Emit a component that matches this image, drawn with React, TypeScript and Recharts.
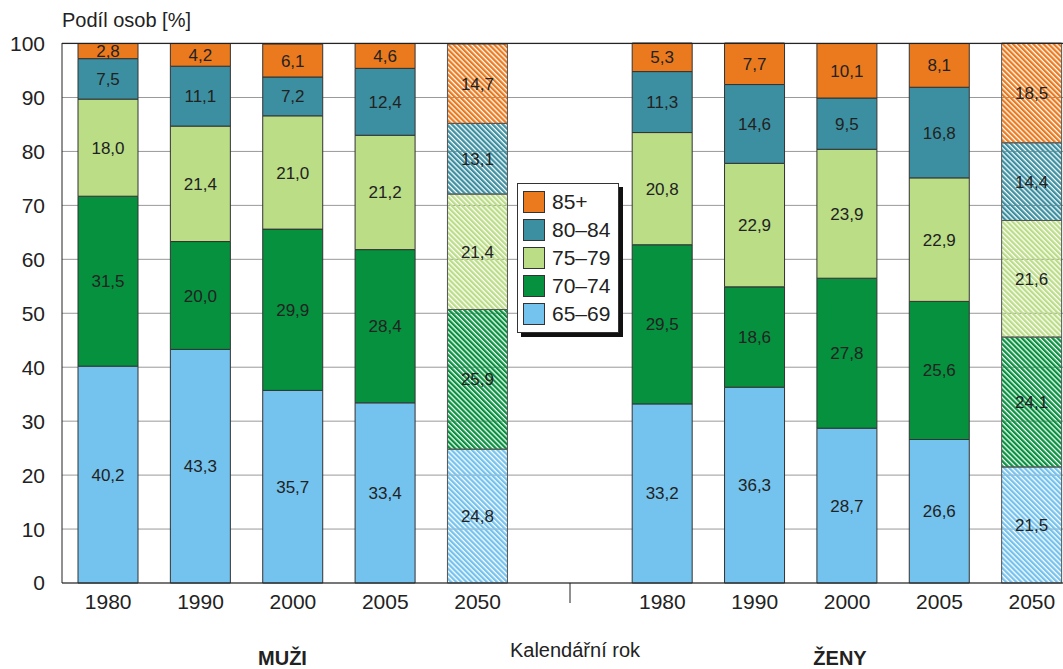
import { BarChart, Bar, XAxis, YAxis, CartesianGrid, Cell, LabelList, Legend, ReferenceLine } from 'recharts';

// categories: men (5), blank separator, women (5)
const years = ['1980', '1990', '2000', '2005', '2050', '', '1980', '1990', '2000', '2005', '2050'];
const age6569 = [40.2, 43.3, 35.7, 33.4, 24.8, null, 33.2, 36.3, 28.7, 26.6, 21.5];
const age7074 = [31.5, 20.0, 29.9, 28.4, 25.9, null, 29.5, 18.6, 27.8, 25.6, 24.1];
const age7579 = [18.0, 21.4, 21.0, 21.2, 21.4, null, 20.8, 22.9, 23.9, 22.9, 21.6];
const age8084 = [7.5, 11.1, 7.2, 12.4, 13.1, null, 11.3, 14.6, 9.5, 16.8, 14.4];
const age85 = [2.8, 4.2, 6.1, 4.6, 14.7, null, 5.3, 7.7, 10.1, 8.1, 18.5];
const yTicks = [0, 10, 20, 30, 40, 50, 60, 70, 80, 90, 100];

const series = [
  { key: 'a65', name: '65–69', color: '#74c2ee' },
  { key: 'a70', name: '70–74', color: '#05913e' },
  { key: 'a75', name: '75–79', color: '#badd86' },
  { key: 'a80', name: '80–84', color: '#3c8fa0' },
  { key: 'a85', name: '85+', color: '#eb7a1e' },
];

const data = years.map((year, i) => ({
  key: i,
  year,
  a65: age6569[i],
  a70: age7074[i],
  a75: age7579[i],
  a80: age8084[i],
  a85: age85[i],
}));

const font = '"Liberation Sans", Arial, sans-serif';
const fmt = (v: any) => (v == null ? '' : Number(v).toFixed(1).replace('.', ','));

const XTick = (props: any) => {
  const { x, y, payload } = props;
  const label = years[payload.value];
  if (label === '') {
    return <line x1={x} x2={x} y1={583} y2={603} stroke="#222" strokeWidth={1} />;
  }
  return (
    <text x={x} y={y} dy={18} textAnchor="middle" fontSize={21} fill="#222" fontFamily={font}>
      {label}
    </text>
  );
};

const renderLegend = () => (
  <div
    style={{
      background: '#fff',
      border: '1px solid #333',
      boxShadow: '4px 4px 0 #111',
      padding: '4px 8px 4px 5px',
      fontFamily: font,
      whiteSpace: 'nowrap',
    }}
  >
    {[...series].reverse().map((s) => (
      <div key={s.key} style={{ display: 'flex', alignItems: 'center', height: 28 }}>
        <span style={{ width: 20, height: 20, background: s.color, border: '1px solid #333', marginRight: 7, flex: 'none' }} />
        <span style={{ fontSize: 21, color: '#222' }}>{s.name}</span>
      </div>
    ))}
  </div>
);

export default function App() {
  return (
    <div style={{ position: 'relative', width: 1063, height: 669, overflow: 'hidden', background: '#fff', fontFamily: font }}>
      <style>{'body{margin:0}'}</style>
      <div style={{ position: 'absolute', left: 62, top: 9, fontSize: 20, color: '#222' }}>Podíl osob [%]</div>
      <BarChart width={1080} height={669} data={data} margin={{ top: 43, right: 2, left: 0, bottom: 0 }} barSize={60}>
        <defs>
          {series.map((s) => (
            <pattern
              key={s.key}
              id={'hatch-' + s.key}
              patternUnits="userSpaceOnUse"
              width={3.6}
              height={3.6}
              patternTransform="rotate(-45)"
            >
              <rect x={0} y={0} width={2.3} height={3.6} fill={s.color} />
            </pattern>
          ))}
        </defs>
        <CartesianGrid vertical={false} stroke="#999" />
        <XAxis
          dataKey="key"
          height={86}
          interval={0}
          axisLine={{ stroke: '#222' }}
          tickLine={false}
          tick={<XTick />}
        />
        <YAxis
          width={62}
          domain={[0, 100]}
          ticks={yTicks}
          axisLine={{ stroke: '#222' }}
          tickLine={false}
          tickMargin={11}
          tick={{ fontSize: 21, fill: '#222', fontFamily: font }}
        />
        <ReferenceLine y={100} stroke="#222" />
        {series.map((s) => (
          <Bar key={s.key} dataKey={s.key} name={s.name} stackId="a" fill={s.color} stroke="#333" strokeWidth={1} isAnimationActive={false}>
            {data.map((d) => (
              <Cell key={d.key} fill={d.year === '2050' ? `url(#hatch-${s.key})` : s.color} stroke={d.year === '2050' ? '#555' : '#333'} />
            ))}
            <LabelList dataKey={s.key} position="center" formatter={fmt} fill="#222" fontSize={17} fontFamily={font} />
          </Bar>
        ))}
        <Legend
          layout="vertical"
          align="center"
          verticalAlign="middle"
          content={renderLegend}
          wrapperStyle={{ position: 'absolute', left: 517, top: 183, width: 'auto' }}
        />
      </BarChart>
      <div style={{ position: 'absolute', left: 0, width: 565, top: 647, textAlign: 'center', fontSize: 20, fontWeight: 'bold', color: '#222' }}>MUŽI</div>
      <div style={{ position: 'absolute', left: 475, width: 200, top: 639, textAlign: 'center', fontSize: 20, color: '#222' }}>Kalendářní rok</div>
      <div style={{ position: 'absolute', left: 740, width: 200, top: 647, textAlign: 'center', fontSize: 20, fontWeight: 'bold', color: '#222' }}>ŽENY</div>
    </div>
  );
}
